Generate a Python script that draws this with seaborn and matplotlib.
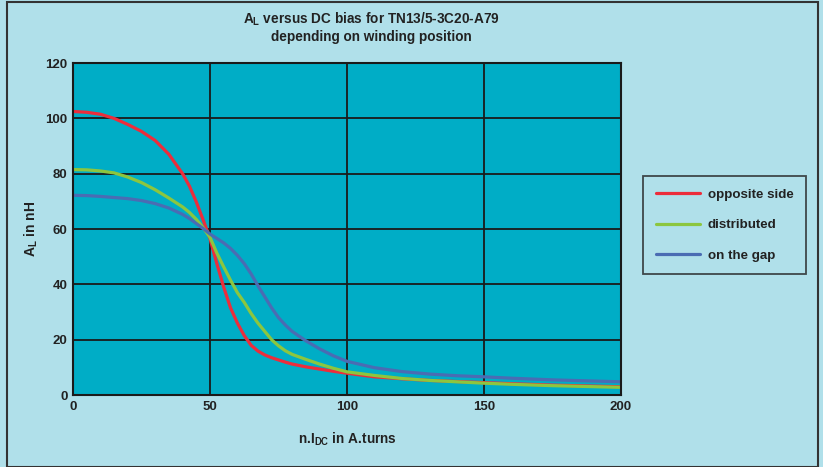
"""
A_L versus DC bias for TN13/5-3C20-A79, by winding position.
"""

import matplotlib
matplotlib.use("Agg")

import pandas as pd
import seaborn as sns
import matplotlib.pyplot as plt
from matplotlib.patches import Rectangle


AMPERE_TURNS = [
    0, 5, 10, 15, 20, 25, 30, 35, 40, 42.5, 45, 47.5, 50, 52.5, 55,
    57.5, 60, 62.5, 65, 67.5, 70, 72.5, 75, 77.5, 80, 85, 90, 95, 100,
    110, 120, 130, 140, 150, 160, 175, 200,
]

OPPOSITE_SIDE = [
    102.5, 102.2, 101.5, 100.0, 97.8, 95.3, 92.0, 87.0, 80.0, 75.5,
    69.8, 63.3, 56.5, 47.5, 39.0, 31.5, 26.0, 21.5, 18.0, 15.9, 14.5,
    13.5, 12.7, 11.9, 11.2, 10.2, 9.4, 8.6, 7.9, 6.6, 5.9, 5.3, 4.9,
    4.5, 4.1, 3.6, 3.0,
]

DISTRIBUTED = [
    81.5, 81.4, 81.0, 80.3, 78.8, 76.8, 74.2, 71.2, 68.0, 66.0, 63.5,
    60.5, 57.0, 51.3, 46.3, 41.5, 37.0, 33.5, 29.5, 26.0, 23.0, 20.0,
    17.8, 16.0, 14.7, 12.9, 11.2, 9.7, 8.4, 7.1, 6.0, 5.3, 4.8, 4.3,
    3.9, 3.4, 2.8,
]

ON_THE_GAP = [
    72.2, 72.1, 71.8, 71.4, 71.0, 70.3, 69.2, 67.6, 65.3, 63.8, 62.0,
    60.2, 58.2, 56.6, 55.0, 53.0, 50.5, 47.5, 43.8, 39.5, 35.5, 31.5,
    28.0, 25.3, 23.0, 19.6, 16.7, 14.2, 12.2, 9.9, 8.5, 7.6, 7.0, 6.6,
    6.1, 5.5, 4.8,
]

SERIES_NAMES = ["opposite side", "distributed", "on the gap"]
SERIES_COLOURS = ["#ec2d3b", "#8cc63f", "#4a6cb3"]

X_TICKS = [0, 50, 100, 150, 200]
Y_TICKS = [0, 20, 40, 60, 80, 100, 120]


def create_dataframe() -> pd.DataFrame:
    """
    Build a long-form table from the series lists.
    """
    frames = []
    for name, values in zip(
        SERIES_NAMES, [OPPOSITE_SIDE, DISTRIBUTED, ON_THE_GAP]
    ):
        frames.append(
            pd.DataFrame(
                {"turns": AMPERE_TURNS, "al": values, "position": name}
            )
        )
    return pd.concat(frames, ignore_index=True)


def create_plot(dataframe: pd.DataFrame) -> None:
    """
    Draw the A_L curves and save them.
    """
    sns.set_style("white")
    plt.rcParams["font.family"] = ["Liberation Sans", "DejaVu Sans"]
    plt.rcParams["font.weight"] = "bold"
    plt.rcParams["mathtext.default"] = "bf"
    plt.rcParams["mathtext.fontset"] = "custom"
    plt.rcParams["mathtext.bf"] = "Liberation Sans:bold"
    plt.rcParams["mathtext.rm"] = "Liberation Sans:bold"

    fig = plt.figure(figsize=(8.23, 4.67), dpi=100, facecolor="#b0e0ea")
    ax = fig.add_axes([0.0887, 0.154, 0.6659, 0.711])
    ax.set_facecolor("#00adc6")

    sns.lineplot(
        data=dataframe,
        x="turns",
        y="al",
        hue="position",
        hue_order=SERIES_NAMES,
        palette=SERIES_COLOURS,
        linewidth=2.3,
        sort=False,
        ax=ax,
    )
    for line in ax.get_lines():
        line.set_solid_joinstyle("round")
        line.set_solid_capstyle("round")

    ax.set_xlim(0, 200)
    ax.set_ylim(0, 120)
    ax.set_xticks(X_TICKS)
    ax.set_yticks(Y_TICKS)
    ax.tick_params(length=0, labelsize=9.5, pad=4)
    for label in ax.get_xticklabels() + ax.get_yticklabels():
        label.set_fontweight("bold")
        label.set_color("#222222")

    ax.grid(True, color="#1a1a1a", linewidth=1.3)
    ax.set_axisbelow(True)
    for spine in ax.spines.values():
        spine.set_color("#1a1a1a")
        spine.set_linewidth(1.5)

    ax.set_xlabel(
        "n.I$_{DC}$ in A.turns", fontsize=9.8, fontweight="bold",
        color="#222222", labelpad=13,
    )
    ax.set_ylabel(
        "A$_L$ in nH", fontsize=10, fontweight="bold",
        color="#222222", labelpad=4,
    )

    fig.text(
        0.451, 0.958, "A$_L$ versus DC bias for TN13/5-3C20-A79",
        ha="center", va="center", fontsize=9.8, fontweight="bold",
        color="#222222",
    )
    fig.text(
        0.451, 0.921, "depending on winding position",
        ha="center", va="center", fontsize=9.8, fontweight="bold",
        color="#222222",
    )

    legend = ax.legend(
        loc="upper left",
        bbox_to_anchor=(1.04, 0.66),
        borderaxespad=0,
        frameon=True,
        fancybox=False,
        facecolor="#b0e0ea",
        edgecolor="#222222",
        fontsize=9.6,
        handlelength=3.3,
        handletextpad=0.6,
        labelspacing=1.35,
        borderpad=0.95,
        title=None,
    )
    legend.get_frame().set_linewidth(1.3)
    for text in legend.get_texts():
        text.set_fontweight("bold")
        text.set_color("#222222")

    fig.patches.append(
        Rectangle(
            (0.008, 0.0), 0.986, 0.995,
            transform=fig.transFigure, fill=False,
            edgecolor="#333333", linewidth=1.5,
        )
    )

    fig.savefig("out.png", dpi=100, facecolor=fig.get_facecolor())


def main() -> None:
    """
    Execute the plot.
    """
    create_plot(create_dataframe())


if __name__ == "__main__":
    main()
